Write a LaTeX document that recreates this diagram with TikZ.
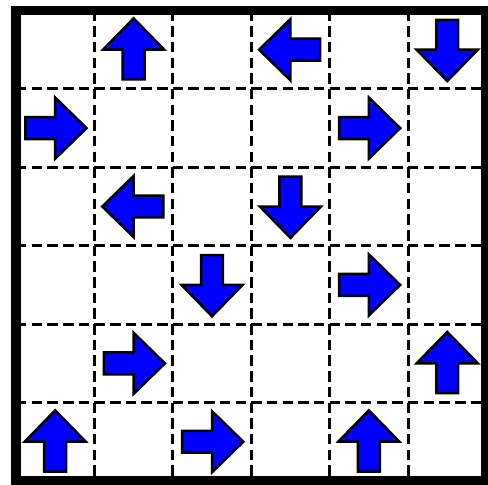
\documentclass[tikz,border=0pt]{standalone}
\usepackage{tikz}
\definecolor{arrowblue}{RGB}{0,0,255}

\begin{document}
\begin{tikzpicture}[
  x=1cm, y=1cm,
  gridline/.style={black, line width=1.1pt, dash pattern=on 3.8pt off 1.89pt},
  frame/.style={black, line width=3.6pt},
  blockarrow/.style={draw=black, line width=0.9pt, fill=arrowblue, line join=miter}
]
\useasboundingbox (-0.204,-0.047) rectangle (6.02,6.134);
\foreach \i in {1,...,5}
  \foreach \j in {0,...,5} {
    \draw[gridline] (\j,\i) -- (\j+1,\i);
    \draw[gridline] (\i,6-\j) -- (\i,5-\j);
  }
\draw[frame] (0,0) rectangle (6,6);

% col/row(from top)/rotation, 0 = up
\foreach \c/\r/\a in {1/0/0, 3/0/90, 5/0/180, 0/1/-90, 4/1/-90, 1/2/90, 3/2/180,
    2/3/180, 4/3/-90, 1/4/-90, 5/4/0, 0/5/0, 2/5/-90, 4/5/0}
  \draw[blockarrow, shift={(\c+0.5,5.5-\r)}, rotate=\a]
    (0,0.4) -- (0.39,0) -- (0.14,0) -- (0.14,-0.38) -- (-0.14,-0.38)
    -- (-0.14,0) -- (-0.39,0) -- cycle;
\end{tikzpicture}
\end{document}
